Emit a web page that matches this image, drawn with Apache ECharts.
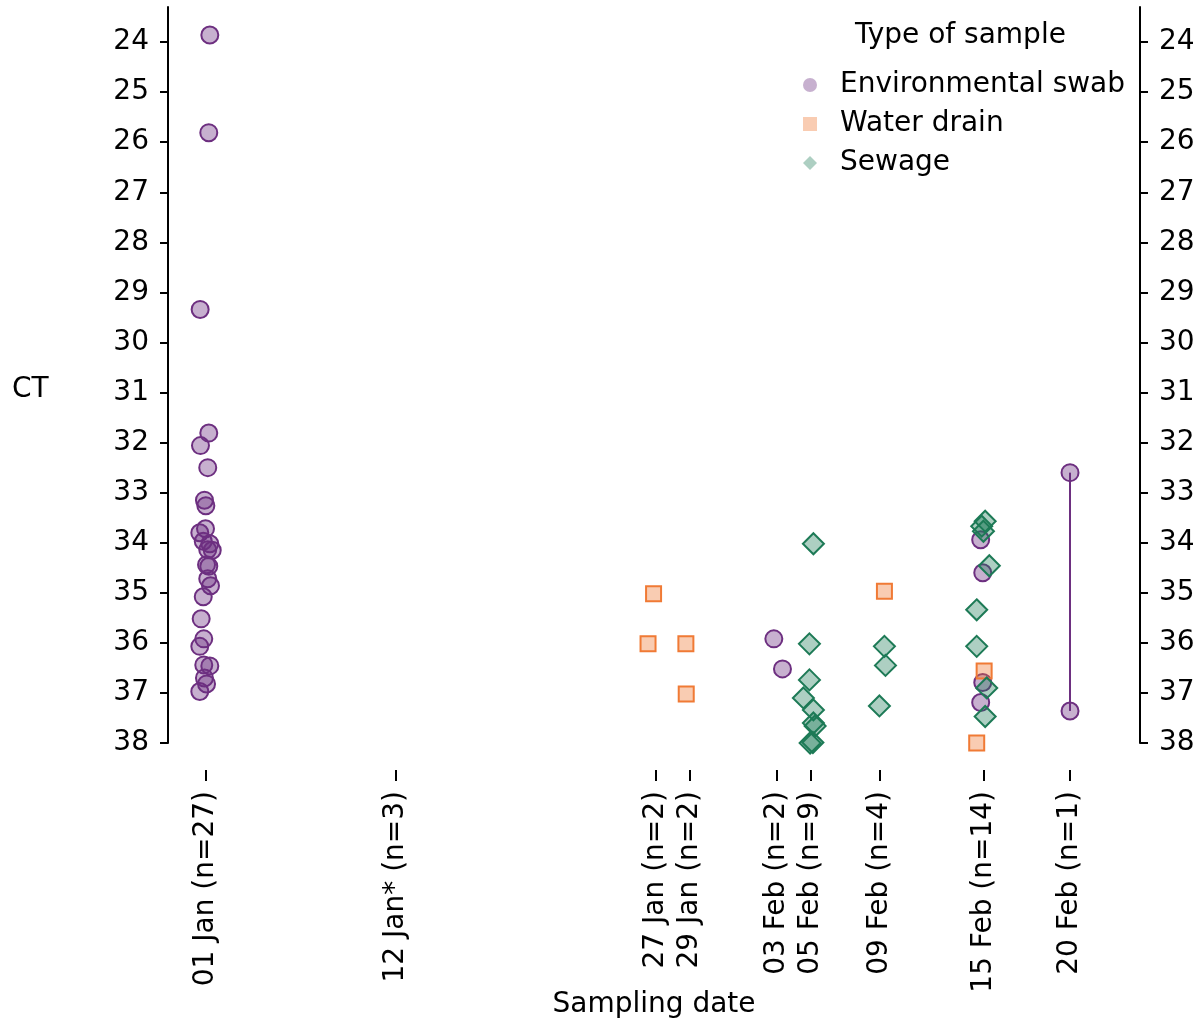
<!DOCTYPE html>
<html>
<head>
<meta charset="utf-8">
<script src="https://cdn.jsdelivr.net/npm/echarts@6/dist/echarts.min.js"></script>
<style>
html,body{margin:0;padding:0;background:#fff;}
#chart{width:1204px;height:1023px;}
</style>
</head>
<body>
<div id="chart"></div>
<script>
// Sampling dates as days since 01 Jan, with tick labels
const tickDays = [0, 11, 26, 28, 33, 35, 39, 45, 50];
const tickLabels = ['01 Jan (n=27)', '12 Jan* (n=3)', '27 Jan (n=2)', '29 Jan (n=2)', '03 Feb (n=2)', '05 Feb (n=9)', '09 Feb (n=4)', '15 Feb (n=14)', '20 Feb (n=1)'];
const ctTicks = [24, 25, 26, 27, 28, 29, 30, 31, 32, 33, 34, 35, 36, 37, 38];

// Environmental swab (x = jittered day, y = CT)
const swabDay = [0.22, 0.16, -0.34, 0.16, -0.32, 0.10, -0.09, -0.01, -0.03, -0.36, -0.16, 0.22, 0.10, 0.36, 0.03, 0.16, 0.10, 0.26, -0.16, -0.28, -0.13, -0.36, -0.13, 0.22, -0.09, 0.03, -0.36,
  32.86, 33.36,
  44.83, 44.95, 44.95, 44.83];
const swabCT = [23.86, 25.81, 29.34, 31.81, 32.06, 32.50, 33.15, 33.26, 33.72, 33.80, 33.97, 34.02, 34.14, 34.15, 34.44, 34.47, 34.72, 34.86, 35.08, 35.52, 35.92, 36.07, 36.44, 36.46, 36.70, 36.82, 36.97,
  35.92, 36.52,
  33.94, 34.60, 36.79, 37.19];

// Water drain
const drainDay = [25.90, 25.58, 27.77, 27.79, 39.26, 45.03, 44.60];
const drainCT = [35.02, 36.02, 36.02, 37.02, 34.97, 36.56, 38.00];

// Sewage
const sewageDay = [35.15, 34.92, 34.92, 34.57, 35.15, 35.15, 35.25, 35.12, 34.96,
  39.26, 39.32, 38.97,
  45.09, 44.89, 44.99, 45.33, 44.60, 44.60, 45.18, 45.09];
const sewageCT = [34.02, 36.02, 36.74, 37.10, 37.34, 37.60, 37.66, 37.99, 38.00,
  36.07, 36.45, 37.26,
  33.57, 33.67, 33.77, 34.46, 35.34, 36.07, 36.90, 37.47];

// 20 Feb range (single sample)
const feb20Day = [50, 50];
const feb20CT = [32.60, 37.36];

const FONT = '"DejaVu Sans", "Liberation Sans", Arial, sans-serif';
const FS = 28;
const purple = '#6d2f80', purpleFill = 'rgba(109,47,128,0.38)';
const orange = '#f07a35', orangeFill = 'rgba(240,122,53,0.38)';
const green = '#1d7a56', greenFill = 'rgba(29,122,86,0.36)';

const zip = (xs, ys) => xs.map((x, i) => [x, ys[i]]);

const yAxisBase = {
  type: 'value', min: 23.3, max: 38, inverse: true,
  splitLine: { show: false },
  axisLine: { show: true, onZero: false, lineStyle: { color: '#000', width: 2 } },
  axisTick: { show: true, length: 8, lineStyle: { color: '#000', width: 2 }, customValues: ctTicks },
  axisLabel: { customValues: ctTicks, color: '#000', fontSize: FS, fontFamily: FONT, margin: 19 }
};

const chart = echarts.init(document.getElementById('chart'));
chart.setOption({
  animation: false,
  backgroundColor: '#fff',
  grid: { left: 168, right: 64, top: 7, bottom: 280, containLabel: false, outerBoundsMode: 'none' },
  title: {
    text: 'Type of sample', left: 855, top: 22, padding: 0,
    textStyle: { fontSize: FS, fontWeight: 'normal', fontFamily: FONT, color: '#000' }
  },
  legend: {
    orient: 'vertical', left: 803, top: 70, padding: 0,
    itemWidth: 14, itemHeight: 14, itemGap: 9,
    itemStyle: { borderWidth: 0 },
    textStyle: { fontSize: FS, fontFamily: FONT, color: '#000', lineHeight: 30, padding: [0, 0, 0, 18] },
    data: [
      { name: 'Environmental swab', icon: 'circle' },
      { name: 'Water drain', icon: 'rect' },
      { name: 'Sewage', icon: 'diamond' }
    ]
  },
  graphic: [{
    type: 'text', left: 12, top: 376,
    style: { text: 'CT', fontSize: FS, fontFamily: FONT, fill: '#000' }
  }],
  xAxis: {
    type: 'value', min: -2.2, max: 54.05, offset: 27,
    name: 'Sampling date', nameLocation: 'middle', nameGap: 221, nameMoveOverlap: false,
    nameTextStyle: { fontSize: FS, fontFamily: FONT, color: '#000' },
    splitLine: { show: false },
    axisLine: { show: false, onZero: false },
    axisTick: { show: true, length: 11, lineStyle: { color: '#000', width: 2 }, customValues: tickDays },
    axisLabel: {
      customValues: tickDays, rotate: 90, margin: 21,
      color: '#000', fontSize: FS, fontFamily: FONT,
      formatter: v => { const i = tickDays.indexOf(Math.round(v)); return i >= 0 ? tickLabels[i] : ''; }
    }
  },
  yAxis: [
    Object.assign({}, yAxisBase, { position: 'left' }),
    Object.assign({}, yAxisBase, { position: 'right' })
  ],
  series: [
    {
      name: '20 Feb range', type: 'line', z: 1,
      data: zip(feb20Day, feb20CT),
      symbol: 'circle', symbolSize: 17,
      lineStyle: { color: purple, width: 2 },
      itemStyle: { color: purpleFill, borderColor: purple, borderWidth: 2 }
    },
    {
      name: 'Environmental swab', type: 'scatter', z: 3,
      data: zip(swabDay, swabCT), symbol: 'circle', symbolSize: 17,
      itemStyle: { color: purpleFill, borderColor: purple, borderWidth: 2, opacity: 1 }
    },
    {
      name: 'Water drain', type: 'scatter', z: 3,
      data: zip(drainDay, drainCT), symbol: 'rect', symbolSize: 15,
      itemStyle: { color: orangeFill, borderColor: orange, borderWidth: 2, opacity: 1 }
    },
    {
      name: 'Sewage', type: 'scatter', z: 3,
      data: zip(sewageDay, sewageCT), symbol: 'diamond', symbolSize: 21,
      itemStyle: { color: greenFill, borderColor: green, borderWidth: 2, opacity: 1 }
    }
  ]
});
</script>
</body>
</html>
